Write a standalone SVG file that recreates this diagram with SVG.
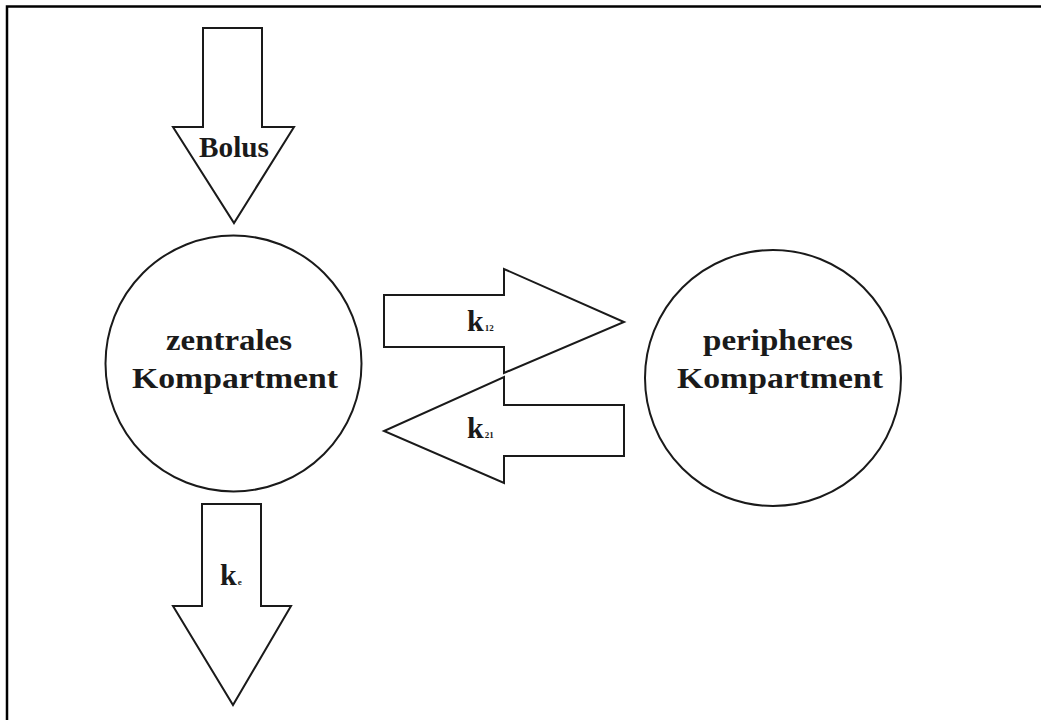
<svg xmlns="http://www.w3.org/2000/svg" width="1041" height="720" viewBox="0 0 1041 720">
<style>
.frame{fill:none;stroke:#000;stroke-width:2.5}
.node{fill:#fff;stroke:#1a1a1a;stroke-width:2}
.arrow{fill:#fff;stroke:#1a1a1a;stroke-width:2;stroke-linejoin:miter}
.lbl{font-family:"Liberation Serif","Times New Roman",serif;font-weight:bold;fill:#1a1a1a}
.big{font-size:30px}
.sub{font-size:9px}
</style>
<rect x="0" y="0" width="1041" height="720" fill="#fff"/>
<path class="frame" d="M7,720 V6.5 H1041"/>
<g id="central">
<circle class="node" cx="233.5" cy="363.5" r="128"/>
<text class="lbl big" x="229" y="350" text-anchor="middle" textLength="126" lengthAdjust="spacingAndGlyphs">zentrales</text>
<text class="lbl big" x="235" y="388" text-anchor="middle" textLength="206" lengthAdjust="spacingAndGlyphs">Kompartment</text>
</g>
<g id="peripheral">
<circle class="node" cx="773" cy="378" r="128"/>
<text class="lbl big" x="778" y="350" text-anchor="middle" textLength="150" lengthAdjust="spacingAndGlyphs">peripheres</text>
<text class="lbl big" x="780" y="388" text-anchor="middle" textLength="206" lengthAdjust="spacingAndGlyphs">Kompartment</text>
</g>
<g id="connectors">
<g id="bolus">
<polygon class="arrow" points="203,28 262,28 262,127 294,127 234,223 173,127 203,127"/>
<text class="lbl big" x="234" y="157" text-anchor="middle" textLength="70" lengthAdjust="spacingAndGlyphs">Bolus</text>
</g>
<g id="k12">
<polygon class="arrow" points="384,295 504,295 504,269 624,322 504,373 504,347 384,347"/>
<text class="lbl" x="467" y="331"><tspan class="big">k</tspan><tspan class="sub" dx="1">12</tspan></text>
</g>
<g id="k21">
<polygon class="arrow" points="624,405 504,405 504,377 384,431 504,483 504,456 624,456"/>
<text class="lbl" x="467" y="438"><tspan class="big">k</tspan><tspan class="sub" dx="1">21</tspan></text>
</g>
<g id="ke">
<polygon class="arrow" points="202,504 261,504 261,606 291,606 233,705 173,606 202,606"/>
<text class="lbl" x="220" y="585"><tspan class="big">k</tspan><tspan class="sub" dx="1">e</tspan></text>
</g>
</g>
</svg>
